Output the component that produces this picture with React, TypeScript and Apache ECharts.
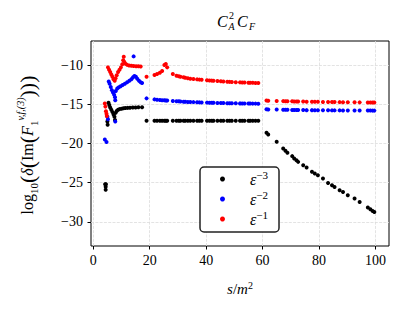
import React, { useEffect, useRef } from 'react';
import * as echarts from 'echarts';

const xTicks = [0, 20, 40, 60, 80, 100];
const yTicks = [-30, -25, -20, -15, -10];

const seriesNames = ['eps-3', 'eps-2', 'eps-1'];
const seriesColors = ['#000000', '#0000ff', '#ff0000'];
const legendSup = ['−3', '−2', '−1'];

// ε^-3 (black)
const epsM3: number[][] = [
  [4.2, -25.2], [4.5, -25.2], [4.4, -25.5], [4.4, -25.9], [5.0, -17.2], [5.1, -17.6],
  [5.4, -14.8], [5.7, -15.1], [6.0, -15.4], [6.4, -15.7], [6.8, -16.0], [7.2, -16.3], [7.5, -16.6], [7.7, -17.0],
  [7.9, -16.1], [8.3, -15.85], [8.8, -15.7], [9.3, -15.62], [10.0, -15.56], [10.7, -15.52], [11.4, -15.49],
  [12.2, -15.46], [13.0, -15.44], [14.0, -15.42], [15.0, -15.4], [16.0, -15.38], [17.3, -15.37],
  [18.9, -17.1], [21.7, -17.1], [22.6, -17.1], [23.6, -17.1], [24.4, -17.1], [25.2, -17.1], [25.7, -17.1],
  [26.2, -17.1], [28.2, -17.1], [29.5, -17.1], [30.3, -17.1], [30.9, -17.1], [32.0, -17.1], [32.6, -17.1],
  [33.5, -17.1], [34.4, -17.1], [35.5, -17.1], [36.8, -17.1], [37.6, -17.1], [38.4, -17.1], [40.3, -17.1],
  [41.2, -17.1], [42.0, -17.1], [42.6, -17.1], [44.0, -17.1], [45.2, -17.1], [46.1, -17.1], [47.5, -17.1],
  [48.3, -17.1], [49.1, -17.1], [50.5, -17.1], [52.0, -17.1], [52.8, -17.1], [53.6, -17.1], [55.0, -17.1],
  [55.6, -17.1], [56.5, -17.1], [57.5, -17.1], [58.5, -17.1],
  [61.4, -18.64], [62.0, -18.85], [65.0, -19.79], [67.3, -20.63], [68.1, -20.93], [68.8, -21.19], [70.5, -21.61],
  [71.2, -21.91], [72.0, -22.13], [72.6, -22.34], [74.4, -22.76], [75.6, -23.06], [77.5, -23.6], [78.5, -23.82],
  [79.6, -24.04], [81.4, -24.46], [83.2, -25.02], [84.6, -25.32], [85.5, -25.53], [87.3, -25.95], [88.5, -26.17],
  [90.2, -26.59], [92.6, -27.01], [94.4, -27.45], [97.3, -28.16], [98.2, -28.38], [99.0, -28.6], [99.6, -28.72],
];

// ε^-2 (blue)
const epsM2: number[][] = [
  [4.1, -19.5], [4.7, -19.8], [5.0, -16.6], [5.2, -16.9], [7.8, -17.2],
  [5.5, -12.1], [5.8, -12.4], [6.2, -12.8], [6.6, -13.2], [7.0, -13.5], [7.4, -13.8], [7.7, -14.1], [7.8, -14.5],
  [8.0, -13.3], [8.5, -13.0], [9.0, -12.85], [9.7, -12.7], [10.4, -12.55], [11.2, -12.4], [12.0, -12.2],
  [12.8, -12.0], [13.5, -11.8], [14.1, -11.55], [14.6, -11.4], [15.1, -11.5], [15.6, -11.75], [16.2, -12.0],
  [16.8, -12.2], [17.3, -12.3], [14.3, -8.9],
  [18.9, -14.25], [21.7, -14.38], [22.6, -14.42], [23.6, -14.45], [24.4, -14.48], [25.2, -14.5], [25.7, -14.51],
  [26.2, -14.53], [28.2, -14.58], [29.5, -14.62], [30.3, -14.63], [30.9, -14.65], [32.0, -14.67], [32.6, -14.68],
  [33.5, -14.7], [34.4, -14.71], [35.5, -14.73], [36.8, -14.75], [37.6, -14.76], [38.4, -14.77], [40.3, -14.79],
  [41.2, -14.8], [42.0, -14.81], [42.6, -14.82], [44.0, -14.83], [45.2, -14.84], [46.1, -14.85], [47.5, -14.86],
  [48.3, -14.87], [49.1, -14.87], [50.5, -14.88], [52.0, -14.89], [52.8, -14.9], [53.6, -14.9], [55.0, -14.91],
  [55.6, -14.91], [56.5, -14.92], [57.5, -14.92], [58.5, -14.93],
  [61.4, -15.64], [62.0, -15.66], [65.0, -15.68], [67.3, -15.7], [68.1, -15.7], [68.8, -15.71], [70.5, -15.72],
  [71.2, -15.72], [72.0, -15.73], [72.6, -15.73], [74.4, -15.74], [75.6, -15.75], [77.5, -15.75], [78.5, -15.76],
  [79.6, -15.76], [81.4, -15.77], [83.2, -15.77], [84.6, -15.78], [85.5, -15.78], [87.3, -15.78], [88.5, -15.79],
  [90.2, -15.79], [92.6, -15.79], [94.4, -15.8], [97.3, -15.8], [98.2, -15.8], [99.0, -15.81], [99.6, -15.81],
];

// ε^-1 (red)
const epsM1: number[][] = [
  [4.1, -14.9], [4.3, -15.3], [4.5, -15.9], [4.7, -16.2], [4.8, -16.5],
  [5.2, -10.3], [5.6, -10.6], [6.0, -10.9], [6.4, -11.2], [6.8, -11.5], [7.2, -11.8], [7.6, -12.0], [7.9, -11.7],
  [8.3, -11.3], [8.8, -10.9], [9.3, -10.6], [9.8, -10.3], [10.3, -9.9], [10.6, -9.4], [10.8, -8.95], [11.0, -9.6],
  [11.4, -9.85], [12.0, -9.98], [12.7, -10.05], [13.5, -10.1], [14.3, -10.13], [15.2, -10.15], [16.0, -10.17],
  [16.8, -10.18],
  [18.9, -11.5], [21.7, -11.28], [22.6, -11.15], [23.6, -10.98], [24.4, -10.77], [25.2, -10.0], [25.7, -9.87],
  [26.2, -10.3], [28.2, -11.15], [29.5, -11.36], [30.3, -11.43], [30.9, -11.49], [32.0, -11.57], [32.6, -11.62],
  [33.5, -11.68], [34.4, -11.74], [35.5, -11.79], [36.8, -11.83], [37.6, -11.86], [38.4, -11.88], [40.3, -11.93],
  [41.2, -11.96], [42.0, -11.99], [42.6, -12.0], [44.0, -12.04], [45.2, -12.08], [46.1, -12.11], [47.5, -12.14],
  [48.3, -12.15], [49.1, -12.17], [50.5, -12.19], [52.0, -12.21], [52.8, -12.22], [53.6, -12.23], [55.0, -12.25],
  [55.6, -12.26], [56.5, -12.27], [57.5, -12.28], [58.5, -12.3],
  [61.4, -14.52], [62.0, -14.55], [65.0, -14.58], [67.3, -14.6], [68.1, -14.61], [68.8, -14.62], [70.5, -14.63],
  [71.2, -14.64], [72.0, -14.64], [72.6, -14.65], [74.4, -14.66], [75.6, -14.67], [77.5, -14.68], [78.5, -14.69],
  [79.6, -14.69], [81.4, -14.7], [83.2, -14.71], [84.6, -14.72], [85.5, -14.72], [87.3, -14.73], [88.5, -14.74],
  [90.2, -14.74], [92.6, -14.75], [94.4, -14.76], [97.3, -14.77], [98.2, -14.77], [99.0, -14.78], [99.6, -14.78],
];

const seriesData = [epsM3, epsM2, epsM1];

const FONT = "'Liberation Serif', 'DejaVu Serif', serif";

export default function App() {
  const ref = useRef<HTMLDivElement>(null);
  useEffect(() => {
    if (!ref.current) return;
    const chart = echarts.init(ref.current, null, { renderer: 'svg' });
    const fmt = (v: number) => String(v).replace('-', '−');
    const option: any = {
      animation: false,
      grid: {
        left: 91, right: 21, top: 41, bottom: 67, show: true,
        borderColor: '#000', borderWidth: 1, backgroundColor: 'transparent',
      },
      xAxis: {
        type: 'value', min: -0.8, max: 104.8,
        axisLine: { show: false, onZero: false },
        axisTick: { show: true, length: 3.5, lineStyle: { color: '#000', width: 1 }, customValues: xTicks },
        axisLabel: { customValues: xTicks, color: '#000', fontFamily: FONT, fontSize: 14, margin: 7, formatter: fmt },
        splitLine: { show: true, lineStyle: { color: '#dcdcdc', width: 0.8, type: [3, 1.3] } },
      },
      yAxis: {
        type: 'value', min: -33.06, max: -6.94,
        axisLine: { show: false, onZero: false },
        axisTick: { show: true, length: 3.5, lineStyle: { color: '#000', width: 1 }, customValues: yTicks },
        axisLabel: { customValues: yTicks, color: '#000', fontFamily: FONT, fontSize: 14, margin: 8, formatter: fmt },
        splitLine: { show: true, lineStyle: { color: '#dcdcdc', width: 0.8, type: [3, 1.3] } },
      },
      legend: {
        data: seriesNames,
        orient: 'vertical', left: 200, top: 167,
        padding: [2, 11, 5, 20],
        itemWidth: 5, itemHeight: 5, itemGap: 2, icon: 'circle',
        borderColor: '#222', borderWidth: 1.5, borderRadius: 4, backgroundColor: '#fff',
        formatter: (name: string) => '{e|ε}{s|' + legendSup[seriesNames.indexOf(name)] + '}',
        textStyle: {
          rich: {
            e: { fontFamily: FONT, fontStyle: 'italic', fontSize: 16, lineHeight: 20, color: '#000', padding: [0, 0, 0, 20] },
            s: { fontFamily: FONT, fontSize: 11, lineHeight: 10, verticalAlign: 'top', color: '#000' },
          },
        },
      },
      series: seriesNames.map((n, i) => ({
        name: n, type: 'scatter', data: seriesData[i], symbolSize: 4,
        itemStyle: { color: seriesColors[i], opacity: 1 },
      })),
      graphic: [
        { type: 'text', x: 217, y: 21, style: { text: 'C', fontFamily: FONT, fontStyle: 'italic', fontSize: 16, fill: '#000', verticalAlign: 'middle' } },
        { type: 'text', x: 229, y: 15, style: { text: '2', fontFamily: FONT, fontSize: 10, fill: '#000', verticalAlign: 'middle' } },
        { type: 'text', x: 228.5, y: 26, style: { text: 'A', fontFamily: FONT, fontStyle: 'italic', fontSize: 10, fill: '#000', verticalAlign: 'middle' } },
        { type: 'text', x: 237, y: 21, style: { text: 'C', fontFamily: FONT, fontStyle: 'italic', fontSize: 16, fill: '#000', verticalAlign: 'middle' } },
        { type: 'text', x: 249, y: 26, style: { text: 'F', fontFamily: FONT, fontStyle: 'italic', fontSize: 10, fill: '#000', verticalAlign: 'middle' } },
        {
          type: 'text', x: 240, y: 289,
          style: {
            text: '{i|s}{n|/}{i|m}{p|2}', align: 'center', verticalAlign: 'middle', fill: '#000',
            rich: {
              i: { fontFamily: FONT, fontStyle: 'italic', fontSize: 15, lineHeight: 18 },
              n: { fontFamily: FONT, fontSize: 15, lineHeight: 18 },
              p: { fontFamily: FONT, fontSize: 10, lineHeight: 10, verticalAlign: 'top' },
            },
          },
        },
        {
          type: 'text', x: 27, y: 145, rotation: Math.PI / 2,
          style: {
            text: '{n|log}{b|10}{p|(}{i|δ}{p|(}{n|Im}{p|(}{i|F}{b|1}{t|v,f,(3)}{p|)}{p|)}{p|)}',
            align: 'center', verticalAlign: 'middle', fill: '#000',
            rich: {
              n: { fontFamily: FONT, fontSize: 16, lineHeight: 24 },
              i: { fontFamily: FONT, fontStyle: 'italic', fontSize: 16, lineHeight: 24 },
              p: { fontFamily: FONT, fontSize: 22, lineHeight: 24 },
              b: { fontFamily: FONT, fontSize: 11, lineHeight: 11, verticalAlign: 'bottom' },
              t: { fontFamily: FONT, fontStyle: 'italic', fontSize: 10, lineHeight: 11, verticalAlign: 'top' },
            },
          },
        },
      ],
    };
    chart.setOption(option);
    return () => chart.dispose();
  }, []);
  return <div ref={ref} style={{ position: 'fixed', left: 0, top: 0, width: 410, height: 313, background: '#fff' }} />;
}
